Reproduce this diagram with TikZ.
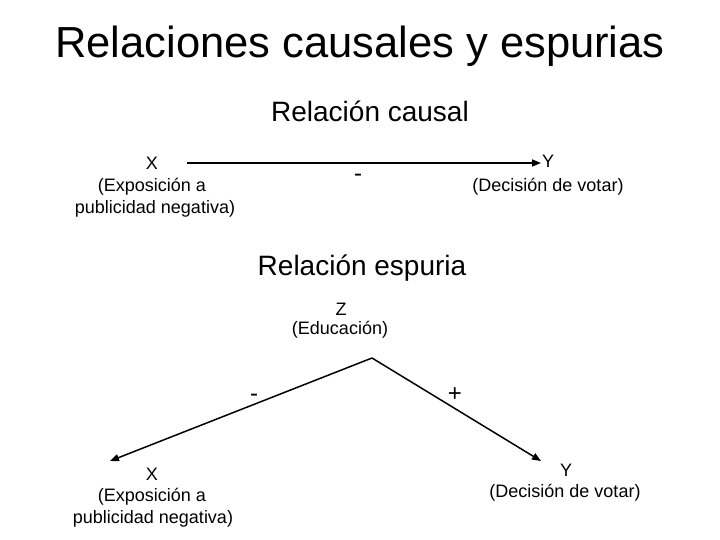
\documentclass[tikz,border=0pt]{standalone}
\usepackage{fontspec}
\setmainfont{Liberation Sans}
\usetikzlibrary{arrows.meta}
\begin{document}
\begin{tikzpicture}[x=1pt,y=-1pt,
  lbl/.style={font=\fontsize{18}{20}\selectfont,inner sep=0pt},
  head/.style={font=\fontsize{28}{32}\selectfont,inner sep=0pt},
  arr/.style={line width=1.5pt,-{Triangle[length=9pt,width=7pt]}}]
\useasboundingbox[fill=white] (0,0) rectangle (720,540);
\node[font=\fontsize{43.5}{48}\selectfont,inner sep=0pt] (title) at (360,46) {Relaciones causales y espurias};
\node[head] (h1) at (370,111) {Relación causal};
\node[lbl] (x1) at (152,163) {X};
\node[lbl] (x1a) at (152,187) {(Exposición a};
\node[lbl] (x1b) at (155,209) {publicidad negativa)};
\node[lbl] (y1) at (548,161) {Y};
\node[lbl] (y1a) at (548,187) {(Decisión de votar)};
\node[lbl,font=\fontsize{24}{26}\selectfont] (m1) at (358,178) {-};
\coordinate (a1) at (187,163);
\coordinate (b1) at (541,163);
\draw[arr] (a1) -- (b1);
\node[head] (h2) at (362,268) {Relación espuria};
\node[lbl] (z) at (341,309) {Z};
\node[lbl] (za) at (340,330) {(Educación)};
\coordinate (apex) at (372,358);
\coordinate (le) at (110,461);
\coordinate (re) at (541,461);
\draw[arr] (apex) -- (le);
\draw[arr] (apex) -- (re);
\node[lbl,font=\fontsize{24}{26}\selectfont] (m2) at (254,398) {-};
\node[lbl,font=\fontsize{24}{26}\selectfont] (p2) at (455,395) {+};
\node[lbl] (x2) at (152,474) {X};
\node[lbl] (x2a) at (152,497) {(Exposición a};
\node[lbl] (x2b) at (153,519) {publicidad negativa)};
\node[lbl] (y2) at (566,470) {Y};
\node[lbl] (y2a) at (565,493) {(Decisión de votar)};
\end{tikzpicture}
\end{document}
